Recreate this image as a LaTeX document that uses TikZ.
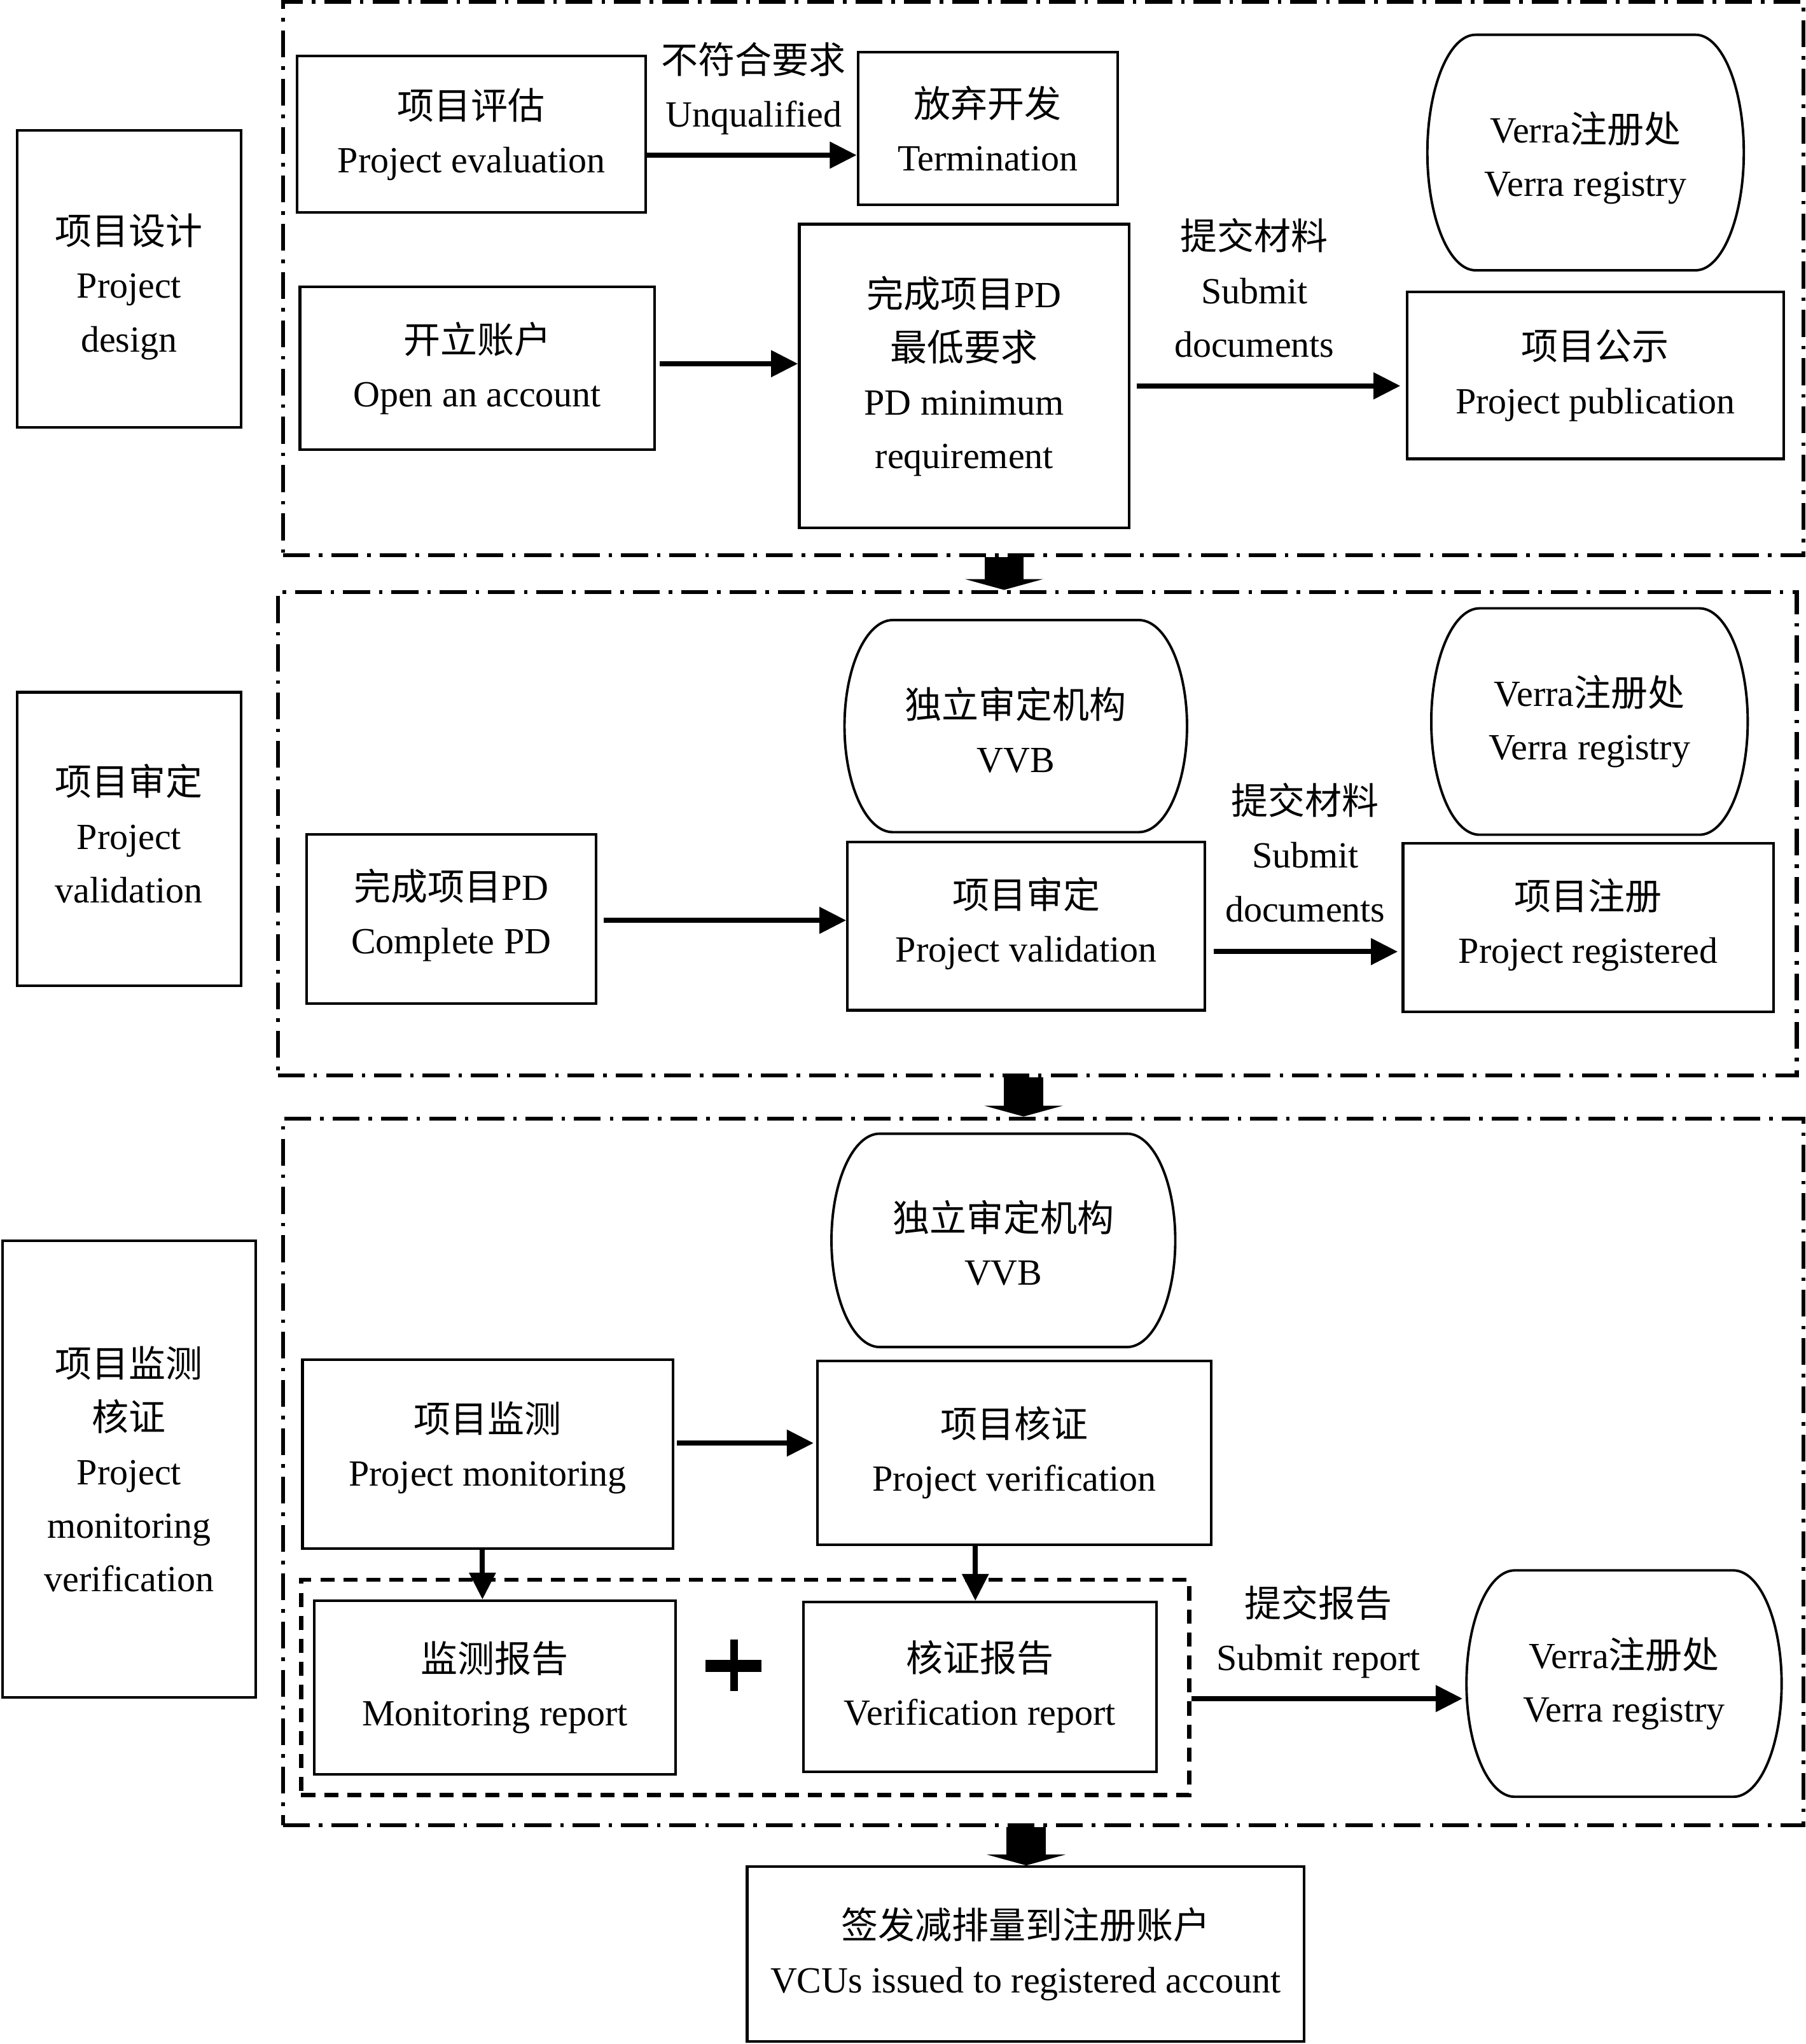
\documentclass[tikz,border=0pt]{standalone}
\usepackage{fontspec}
\setmainfont{Liberation Serif}
\newfontfamily\zhfont{Noto Sans CJK SC}
\newcommand\zhtxt[1]{{\zhfont #1}}
\newcommand\myfs{\fontsize{16.5}{24}\selectfont}
\usetikzlibrary{arrows.meta,calc}
\newcommand\ovalshape[1]{%
 \draw[ovalline] ($(#1.north west)+(37,0)$) -- ($(#1.north east)+(-37,0)$)
   .. controls ($(#1.north east)+(-16.6,0)$) and ($(#1.east)!0.55!(#1.north east)$) .. (#1.east)
   .. controls ($(#1.east)!0.55!(#1.south east)$) and ($(#1.south east)+(-16.6,0)$) .. ($(#1.south east)+(-37,0)$)
   -- ($(#1.south west)+(37,0)$)
   .. controls ($(#1.south west)+(16.6,0)$) and ($(#1.west)!0.55!(#1.south west)$) .. (#1.west)
   .. controls ($(#1.west)!0.55!(#1.north west)$) and ($(#1.north west)+(16.6,0)$) .. cycle;}
\begin{document}
\begin{tikzpicture}[x=0.0205cm,y=-0.0205cm,
  corners/.style n args={4}{at={({(#1+#3)/2},{(#2+#4)/2})},
     minimum width={(#3-#1)*0.0205cm}, minimum height={(#4-#2)*0.0205cm}},
  box/.style={draw, line width=1.2pt, inner sep=0pt, align=center, font=\myfs},
  ovalnode/.style={inner sep=0pt, align=center, font=\myfs},
  ovalline/.style={line width=1.1pt},
  frame/.style={draw, line width=1.75pt, dash pattern=on 12pt off 4pt on 1.6pt off 4pt, inner sep=0pt},
  innerframe/.style={draw, line width=1.8pt, dash pattern=on 6.3pt off 4pt, inner sep=0pt},
  arr/.style={line width=2.3pt, -{Triangle[length=12pt,width=11.5pt]}},
  blockarr/.style={line width=0.615cm, -{Triangle[length=0.17cm,width=1.23cm]}},
  lbl/.style={align=center, font=\myfs, inner sep=0pt}]
\useasboundingbox (0,0) rectangle (1385,1568);

% frames
\node[frame, corners={217}{1.5}{1383}{426}] (f1) {};
\node[frame, corners={213}{454}{1378}{825}] (f2) {};
\node[frame, corners={217}{858}{1383}{1400}] (f3) {};

% section 1
\node[box, corners={13}{100}{185}{328}] (l1) {};
\node[lbl] (l1t) at ($(l1.center)+(0,6)$) {\zhtxt{项目设计}\\Project\\design};
\node[box, corners={228}{43}{495}{163}] (eval) {\zhtxt{项目评估}\\Project evaluation};
\node[box, corners={658}{40}{857}{157}] (term) {\zhtxt{放弃开发}\\Termination};
\node[lbl] (lab1) at (578,68) {\zhtxt{不符合要求}\\Unqualified};
\node[ovalnode, corners={1095}{27}{1337}{207}] (reg1) {};
\node[lbl] (reg1t) at ($(reg1.center)+(0,4)$) {Verra\zhtxt{注册处}\\Verra registry};
\ovalshape{reg1}
\node[box, corners={230}{220}{502}{345}] (acct) {\zhtxt{开立账户}\\Open an account};
\node[box, corners={613}{172}{866}{405}] (pd) {\zhtxt{完成项目}PD\\\zhtxt{最低要求}\\PD minimum\\requirement};
\node[lbl] (lab2) at (962,221) {\zhtxt{提交材料}\\Submit\\documents};
\node[box, corners={1079}{224}{1368}{352}] (pub) {\zhtxt{项目公示}\\Project publication};

\draw[arr] ($(eval.east)+(0,16)$) coordinate (t1) -- (t1 -| term.west);
\draw[arr] ($(acct.east)+(3,-3.5)$) coordinate (t2) -- (t2 -| pd.west);
\draw[arr] ($(pd.east)+(5,7.5)$) coordinate (t3) -- ($(t3 -| pub.west)+(-4,0)$);

% section 2
\node[box, corners={13}{531}{185}{756}] (l2) {};
\node[lbl] (l2t) at ($(l2.center)+(0,-4)$) {\zhtxt{项目审定}\\Project\\validation};
\node[box, corners={235}{640}{457}{770}] (cpd) {};
\node[lbl] (cpdt) at ($(cpd.center)+(0,-3)$) {\zhtxt{完成项目}PD\\Complete PD};
\node[ovalnode, corners={648}{476}{910}{638}] (vvb1) {};
\node[lbl] (vvb1t) at ($(vvb1.center)+(0,3)$) {\zhtxt{独立审定机构}\\VVB};
\ovalshape{vvb1}
\node[box, corners={650}{646}{924}{775}] (val) {};
\node[lbl] (valt) at ($(val.center)+(0,-2)$) {\zhtxt{项目审定}\\Project validation};
\node[lbl] (lab3) at (1001,654) {\zhtxt{提交材料}\\Submit\\documents};
\node[ovalnode, corners={1098}{467}{1340}{640}] (reg2) {Verra\zhtxt{注册处}\\Verra registry};
\ovalshape{reg2}
\node[box, corners={1076}{647}{1360}{776}] (regd) {};
\node[lbl] (regdt) at ($(regd.center)+(0,-2)$) {\zhtxt{项目注册}\\Project registered};

\draw[arr] ($(cpd.east)+(5,1)$) coordinate (t4) -- (t4 -| val.west);
\draw[arr] ($(val.east)+(6,19.5)$) coordinate (t5) -- ($(t5 -| regd.west)+(-3,0)$);

% section 3
\node[box, corners={2}{952}{196}{1302}] (l3) {\zhtxt{项目监测}\\\zhtxt{核证}\\Project\\monitoring\\verification};
\node[ovalnode, corners={638}{870}{901}{1033}] (vvb2) {};
\node[lbl] (vvb2t) at ($(vvb2.center)+(0,2)$) {\zhtxt{独立审定机构}\\VVB};
\ovalshape{vvb2}
\node[box, corners={232}{1043}{516}{1188}] (mon) {};
\node[lbl] (mont) at ($(mon.center)+(0,-5)$) {\zhtxt{项目监测}\\Project monitoring};
\node[box, corners={627}{1044}{929}{1185}] (ver) {\zhtxt{项目核证}\\Project verification};
\node[innerframe, corners={231}{1212}{912}{1377}] (inner) {};
\node[box, corners={241}{1228}{518}{1361}] (monr) {\zhtxt{监测报告}\\Monitoring report};
\node[box, corners={616}{1229}{887}{1359}] (verr) {\zhtxt{核证报告}\\Verification report};
\fill (541,1273.5) rectangle (584,1282.5);
\fill (560,1257.5) rectangle (566,1297);
\node[lbl] (lab4) at (1011,1252) {\zhtxt{提交报告}\\Submit report};
\node[ovalnode, corners={1125}{1205}{1366}{1378}] (reg3) {Verra\zhtxt{注册处}\\Verra registry};
\ovalshape{reg3}

\coordinate (c370) at (370,0);
\coordinate (c748) at (748,0);
\draw[arr] ($(mon.east)+(2,-8.5)$) coordinate (t6) -- ($(t6 -| ver.west)+(-2,0)$);
\draw[arr] (mon.south -| c370) -- (monr.north -| c370);
\draw[arr] (ver.south -| c748) -- (verr.north -| c748);
\draw[arr] ($(inner.east)+(0,8.5)$) coordinate (t7) -- ($(t7 -| reg3.west)+(-3,0)$);

% final
\node[box, corners={573}{1432}{1000}{1566}] (final) {\zhtxt{签发减排量到注册账户}\\VCUs issued to registered account};

% block arrows
\coordinate (b1) at (770,0);
\coordinate (b2) at (785,0);
\coordinate (b3) at (787,0);
\draw[blockarr] (f1.south -| b1) -- (f2.north -| b1);
\draw[blockarr] (f2.south -| b2) -- (f3.north -| b2);
\draw[blockarr] (f3.south -| b3) -- (final.north -| b3);
\end{tikzpicture}
\end{document}
